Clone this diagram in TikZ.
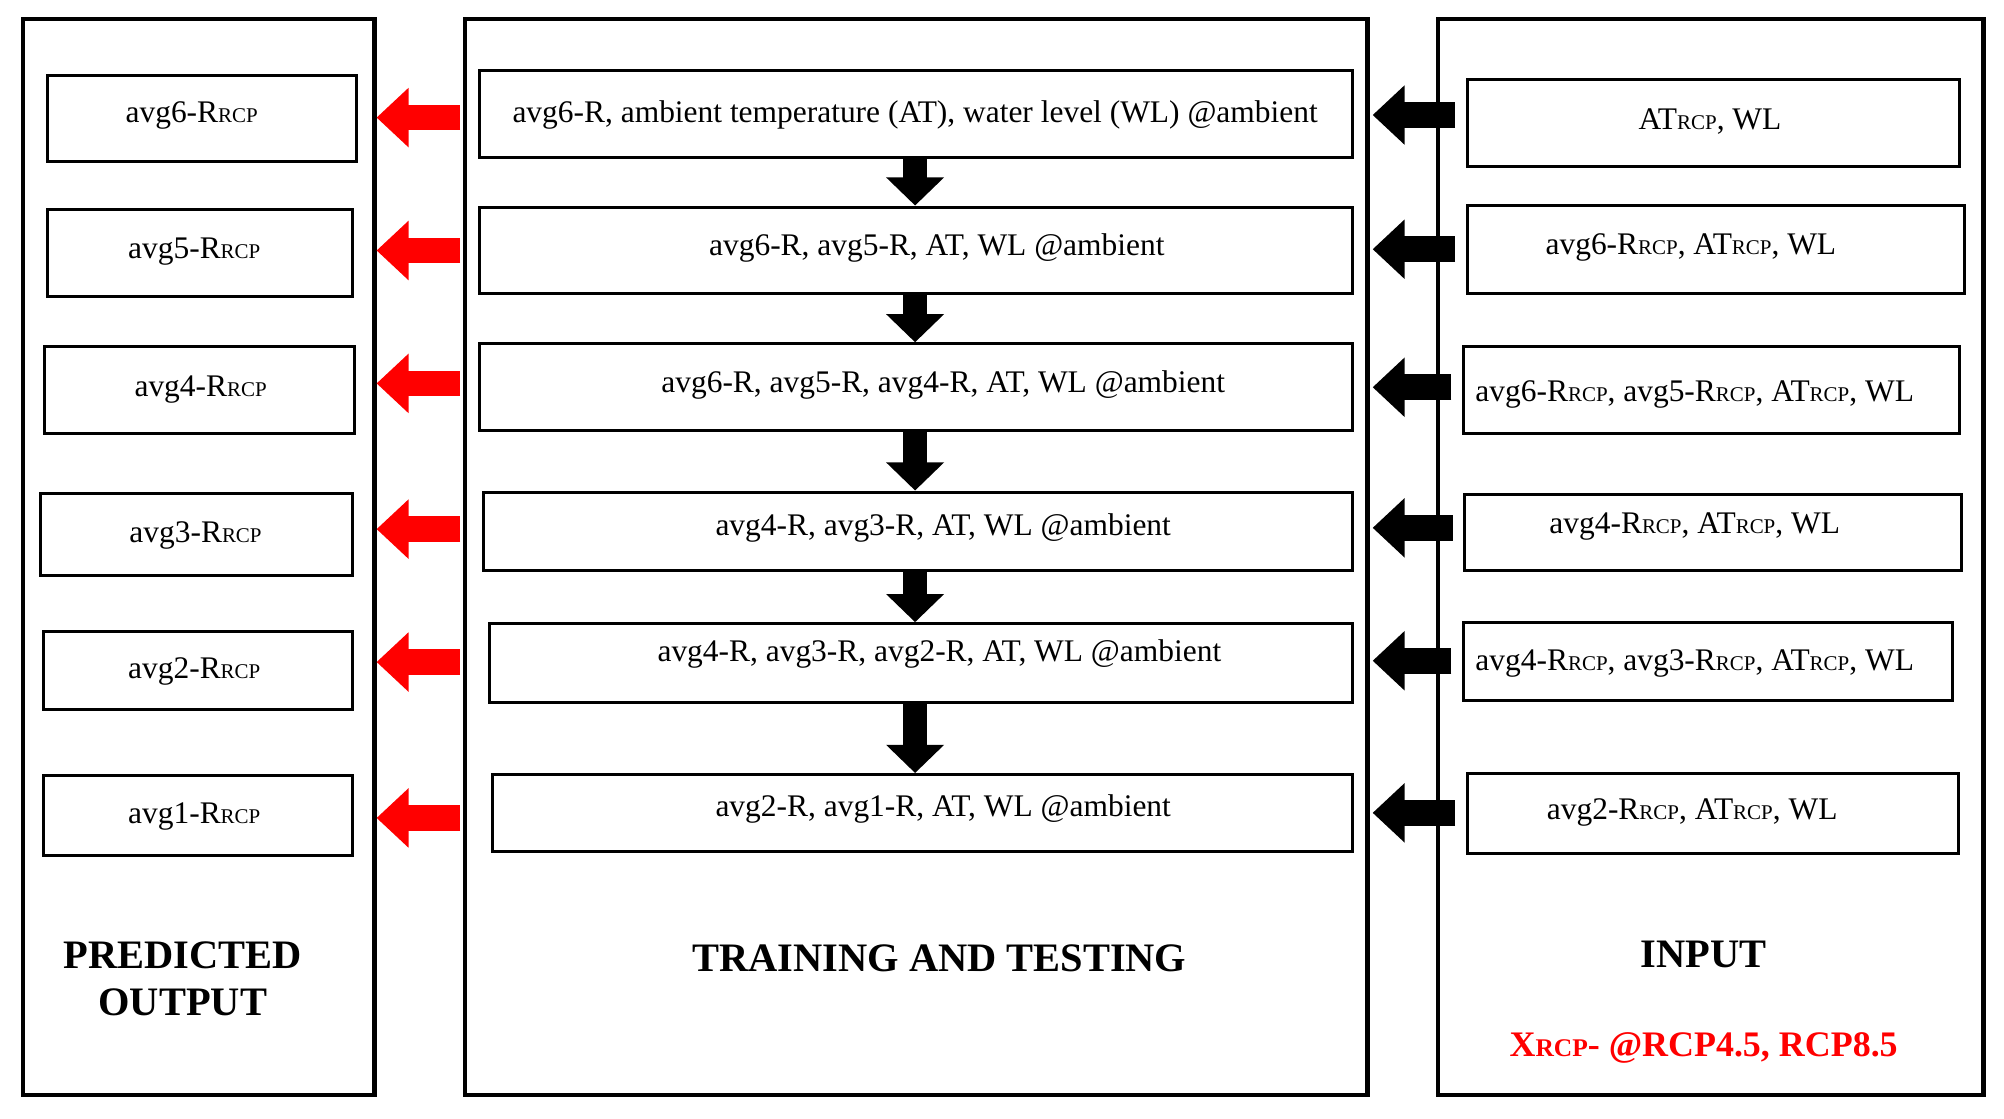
\documentclass[tikz,border=0pt]{standalone}
\usepackage{fontspec}
\setmainfont{Liberation Serif}
\usetikzlibrary{fit,arrows.meta}
\newcommand{\rcp}{{\fontsize{14}{14}\selectfont RCP}}
\begin{document}
\begin{tikzpicture}[x=0.03cm,y=-0.03cm,
  outer/.style={draw,line width=2.8pt,inner sep=0pt},
  box/.style={draw,line width=2pt,inner sep=0pt},
  txt/.style={font=\fontsize{21}{24}\selectfont,inner sep=0pt},
  ttl/.style={font=\fontsize{27}{31}\bfseries\selectfont,align=center},
  redarr/.style={red,line width=0.6cm,-{Triangle[length=0.75cm,width=1.35cm]}},
  blkarr/.style={black,line width=0.6cm,-{Triangle[length=0.75cm,width=1.35cm]}},
  dnarr/.style={black,line width=0.55cm,-{Triangle[length=0.66cm,width=1.32cm]}}]
\useasboundingbox (0,0) rectangle (1568,875);
\node[outer,fit={(18,15)(293,857)}] (oL) {};
\node[outer,fit={(364,15)(1070,857)}] (oM) {};
\node[outer,fit={(1125,15)(1552,857)}] (oR) {};
% left
\node[box,fit={(37,59)(279,126)}] (l1) {};
\node[box,fit={(37,164)(276,232)}] (l2) {};
\node[box,fit={(35,271)(277,339)}] (l3) {};
\node[box,fit={(32,386)(276,450)}] (l4) {};
\node[box,fit={(34,494)(276,555)}] (l5) {};
\node[box,fit={(34,607)(276,669)}] (l6) {};
\node[txt] (lt1) at (150,90) {avg6-R\rcp};
\node[txt] (lt2) at (152,197) {avg5-R\rcp};
\node[txt] (lt3) at (157,305) {avg4-R\rcp};
\node[txt] (lt4) at (153,419) {avg3-R\rcp};
\node[txt] (lt5) at (152,525) {avg2-R\rcp};
\node[txt] (lt6) at (152,639) {avg1-R\rcp};
% middle
\node[box,fit={(375,55)(1058,123)}] (m1) {};
\node[box,fit={(375,162)(1058,230)}] (m2) {};
\node[box,fit={(375,269)(1058,337)}] (m3) {};
\node[box,fit={(378,385)(1058,446)}] (m4) {};
\node[box,fit={(383,488)(1058,550)}] (m5) {};
\node[box,fit={(385,606)(1058,666)}] (m6) {};
\node[txt] (mt1) at (716,90) {avg6-R, ambient temperature (AT), water level (WL) @ambient};
\node[txt] (mt2) at (733,194) {avg6-R, avg5-R, AT, WL @ambient};
\node[txt] (mt3) at (738,301) {avg6-R, avg5-R, avg4-R, AT, WL @ambient};
\node[txt] (mt4) at (738,413) {avg4-R, avg3-R, AT, WL @ambient};
\node[txt] (mt5) at (735,512) {avg4-R, avg3-R, avg2-R, AT, WL @ambient};
\node[txt] (mt6) at (738,633) {avg2-R, avg1-R, AT, WL @ambient};
% right
\node[box,fit={(1148,62)(1533,130)}] (r1) {};
\node[box,fit={(1148,161)(1537,230)}] (r2) {};
\node[box,fit={(1145,271)(1533,339)}] (r3) {};
\node[box,fit={(1146,387)(1535,446)}] (r4) {};
\node[box,fit={(1145,487)(1528,548)}] (r5) {};
\node[box,fit={(1148,605)(1532,668)}] (r6) {};
\node[txt] (rt1) at (1338,95) {AT\rcp, WL};
\node[txt] (rt2) at (1323,194) {avg6-R\rcp, AT\rcp, WL};
\node[txt] (rt3) at (1326,309) {avg6-R\rcp, avg5-R\rcp, AT\rcp, WL};
\node[txt] (rt4) at (1326,412) {avg4-R\rcp, AT\rcp, WL};
\node[txt] (rt5) at (1326,519) {avg4-R\rcp, avg3-R\rcp, AT\rcp, WL};
\node[txt] (rt6) at (1324,636) {avg2-R\rcp, AT\rcp, WL};
% arrows
\foreach \i/\y in {1/92,2/196,3/300,4/414,5/518,6/640}{
  \draw[redarr] (360,\y) -- (oL.east |- 0,\y);
}
\foreach \i/\y in {1/90,2/195,3/303,4/413,5/517,6/636}{
  \draw[blkarr] (r\i.west |- 0,\y) ++(-0.25cm,0) -- (1074,\y);
}
\foreach \a/\b in {1/2,2/3,3/4,4/5,5/6}{
  \draw[dnarr] (m\a.south -| 716,0) -- (m\b.north -| 716,0);
}
% titles
\node[ttl] (t1) at (143,766) {PREDICTED\\OUTPUT};
\node[ttl] (t2) at (735,750) {TRAINING AND TESTING};
\node[ttl] (t3) at (1333,747) {INPUT};
\node[ttl,red,font=\fontsize{24}{28}\bfseries\selectfont] (t4) at (1333,820) {X{\fontsize{17}{17}\selectfont RCP}- @RCP4.5, RCP8.5};
\end{tikzpicture}
\end{document}
